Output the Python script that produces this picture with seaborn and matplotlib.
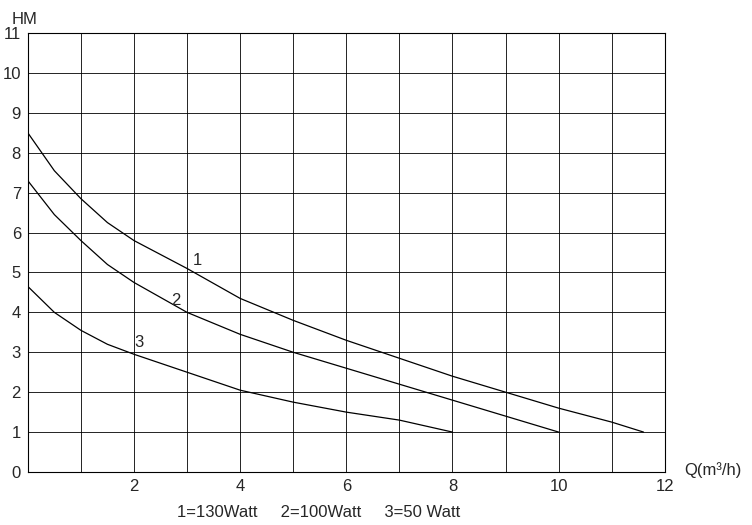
import matplotlib
matplotlib.use("Agg")
import matplotlib.pyplot as plt
import seaborn as sns
import pandas as pd

q1 = [0, 0.5, 1, 1.5, 2, 3, 4, 5, 6, 7, 8, 9, 10, 11, 11.6]
h1 = [8.5, 7.55, 6.85, 6.25, 5.8, 5.1, 4.35, 3.8, 3.3, 2.85, 2.4, 2.0, 1.6, 1.25, 1.0]
q2 = [0, 0.5, 1, 1.5, 2, 3, 4, 5, 6, 7, 8, 9, 10]
h2 = [7.3, 6.45, 5.8, 5.2, 4.75, 4.0, 3.45, 3.0, 2.6, 2.2, 1.8, 1.4, 1.0]
q3 = [0, 0.5, 1, 1.5, 2, 3, 4, 5, 6, 7, 8]
h3 = [4.65, 4.0, 3.55, 3.2, 2.95, 2.5, 2.05, 1.75, 1.5, 1.3, 1.0]
labels = ["1", "2", "3"]
label_pos = [(3.1, 5.1), (2.7, 4.1), (2.0, 3.05)]
xticks = [2, 4, 6, 8, 10, 12]
yticks = list(range(0, 12))
legend_text = "1=130Watt     2=100Watt     3=50 Watt"

sns.set_style("white")
plt.rcParams['font.family'] = ['Liberation Sans', 'DejaVu Sans']
fig = plt.figure(figsize=(7.52, 5.25), dpi=100)
ax = fig.add_axes([0.037, 0.101, 0.847, 0.836])

for q, h in [(q1, h1), (q2, h2), (q3, h3)]:
    df = pd.DataFrame({"Q": q, "H": h})
    sns.lineplot(data=df, x="Q", y="H", ax=ax, color="black", linewidth=0.9)
for t, (x, y) in zip(labels, label_pos):
    ax.text(x, y, t, fontsize=12, ha="left", va="bottom")

ax.set_xlim(0, 12)
ax.set_ylim(0, 11)
ax.set_xticks(range(0, 13))
ax.set_xticklabels([str(i) if i in xticks else "" for i in range(0, 13)], fontsize=12)
ax.set_yticks(yticks)
ax.set_yticklabels([str(i) for i in yticks], fontsize=12)
ax.tick_params(length=0, pad=5)
ax.grid(True, color="black", linewidth=0.6)
for s in ax.spines.values():
    s.set_color("black"); s.set_linewidth(0.8)
ax.set_xlabel(""); ax.set_ylabel("")
fig.text(0.015, 0.955, "HM", fontsize=12, ha="left")
fig.text(0.91, 0.095, "Q(m³/h)", fontsize=12, ha="left")
fig.text(0.235, 0.015, legend_text, fontsize=12, ha="left")
fig.savefig("out.png", dpi=100)
